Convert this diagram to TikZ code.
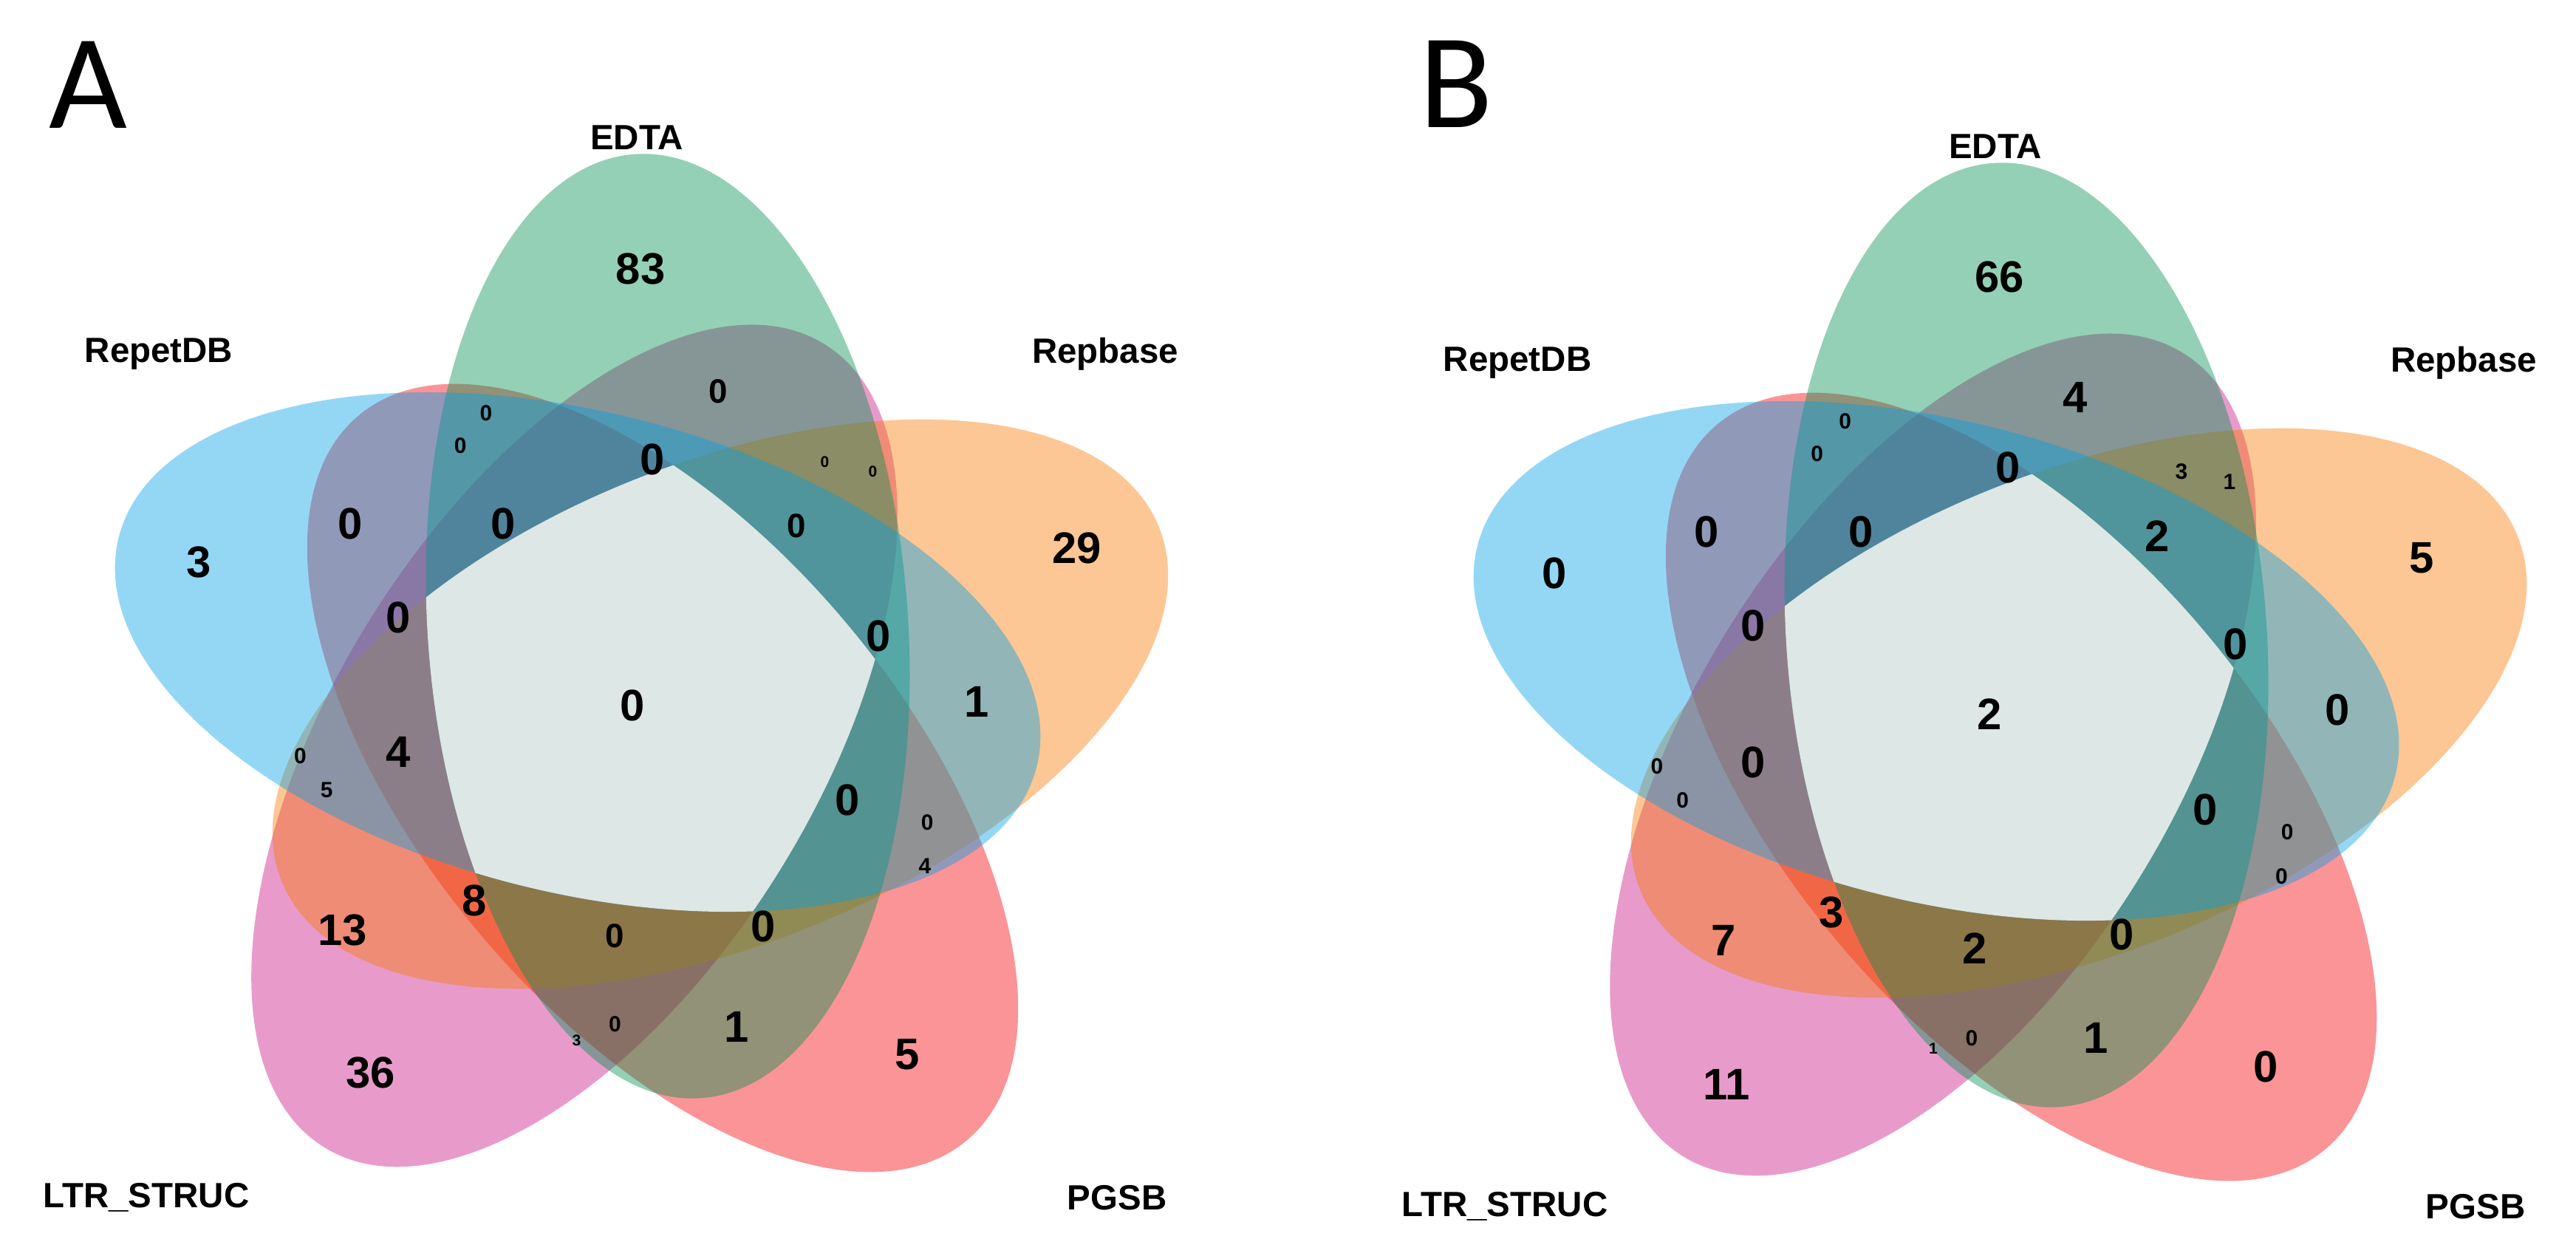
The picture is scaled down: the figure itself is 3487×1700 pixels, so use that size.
\documentclass[tikz,border=0pt]{standalone}
\usepackage{fontspec}
\setmainfont{Liberation Sans}
\newfontfamily\letterfont{Carlito}
\begin{document}
\begin{tikzpicture}[x=0.01cm,y=0.01cm,
  set/.style={fill opacity=0.42},
  big/.style={font=\fontsize{17}{17}\selectfont\bfseries},
  med/.style={font=\fontsize{13}{13}\selectfont\bfseries},
  sm/.style={font=\fontsize{8.5}{8.5}\selectfont\bfseries},
  tn/.style={font=\fontsize{6}{6}\selectfont\bfseries},
  lab/.style={font=\fontsize{13.5}{13.5}\selectfont\bfseries},
  panel/.style={font=\fontsize{52}{52}\selectfont\letterfont}]
\definecolor{cB}{RGB}{0,160,231}
\definecolor{cG}{RGB}{0,143,79}
\definecolor{cO}{RGB}{248,121,0}
\definecolor{cR}{RGB}{245,0,7}
\definecolor{cP}{RGB}{200,17,129}
\definecolor{cC}{RGB}{220,231,230}
\useasboundingbox (0,0) rectangle (3487,1700);
\tikzset{
  eB/.style={rotate around={166:(782,817.5)}},
  eG/.style={rotate around={94:(904,852.5)}},
  eO/.style={rotate around={22:(975,747)}},
  eR/.style={rotate around={-50:(897,647)}},
  eP/.style={rotate around={58:(777.5,690.6)}},
  ell/.style={x radius=6.4cm,y radius=3.25cm}}
\newcommand\vennsets{%
  \fill[set,cP,eP] (777.5,690.6) ellipse [ell];
  \fill[set,cR,eR] (897,647) ellipse [ell];
  \fill[set,cO,eO] (975,747) ellipse [ell];
  \fill[set,cG,eG] (904,852.5) ellipse [ell];
  \fill[set,cB,eB] (782,817.5) ellipse [ell];
  \begin{scope}
  \clip[eP] (777.5,690.6) ellipse [ell];
  \clip[eR] (897,647) ellipse [ell];
  \clip[eO] (975,747) ellipse [ell];
  \clip[eG] (904,852.5) ellipse [ell];
  \clip[eB] (782,817.5) ellipse [ell];
  \fill[cC] (0,0) rectangle (1700,1700);
  \end{scope}
}
% Panel A
\vennsets
\node[panel] (LA) at (119,1585) {A};
\node[lab] (eA) at (862,1514) {EDTA};
\node[lab] (rA) at (215,1221) {RepetDB};
\node[lab] (bA) at (1496,1221) {Repbase};
\node[lab] (lA) at (198,79) {LTR\_STRUC};
\node[lab] (pA) at (1512,79) {PGSB};
\begin{scope}[x=0.01084cm,y=-0.01084cm,yshift=17cm]
\node[big] (a1) at (800,337) {83};
\node[med] (a2) at (897,490) {0};
\node[sm] (a3) at (607,517) {0};
\node[sm] (a4) at (575,557) {0};
\node[big] (a5) at (815,575) {0};
\node[tn] (a6) at (1030,578) {0};
\node[tn] (a7) at (1090,590) {0};
\node[big] (a8) at (437,655) {0};
\node[big] (a9) at (628,655) {0};
\node[med] (a10) at (995,658) {0};
\node[big] (a11) at (1345,685) {29};
\node[big] (a12) at (248,703) {3};
\node[big] (a13) at (497,772) {0};
\node[big] (a14) at (1097,795) {0};
\node[big] (a15) at (790,882) {0};
\node[big] (a16) at (1220,877) {1};
\node[sm] (a17) at (375,945) {0};
\node[big] (a18) at (497,940) {4};
\node[sm] (a19) at (408,987) {5};
\node[big] (a20) at (1058,1000) {0};
\node[sm] (a21) at (1158,1028) {0};
\node[sm] (a22) at (1155,1082) {4};
\node[big] (a23) at (592,1125) {8};
\node[big] (a24) at (428,1162) {13};
\node[med] (a25) at (768,1170) {0};
\node[big] (a26) at (953,1158) {0};
\node[big] (a27) at (920,1283) {1};
\node[sm] (a28) at (768,1280) {0};
\node[tn] (a29) at (720,1300) {3};
\node[big] (a30) at (463,1340) {36};
\node[big] (a31) at (1133,1318) {5};
\end{scope}
% Panel B
\begin{scope}[xshift=18.38cm,yshift=-0.12cm]
\vennsets
\node[lab] (eB) at (862,1514) {EDTA};
\node[lab] (rB) at (215,1221) {RepetDB};
\node[lab] (bB) at (1496,1221) {Repbase};
\node[lab] (lB) at (198,79) {LTR\_STRUC};
\node[lab] (pB) at (1512,79) {PGSB};
\end{scope}
\node[panel] (LB) at (1971,1586) {B};
\begin{scope}[x=0.01084cm,y=-0.01084cm,yshift=17cm,xshift=17cm]
\node[big] (b1) at (928,347) {66};
\node[big] (b2) at (1022,497) {4};
\node[sm] (b3) at (735,527) {0};
\node[sm] (b4) at (700,568) {0};
\node[big] (b5) at (938,585) {0};
\node[sm] (b6) at (1155,590) {3};
\node[sm] (b7) at (1215,603) {1};
\node[big] (b8) at (562,665) {0};
\node[big] (b9) at (755,665) {0};
\node[big] (b10) at (1125,670) {2};
\node[big] (b11) at (1455,698) {5};
\node[big] (b12) at (372,717) {0};
\node[big] (b13) at (620,782) {0};
\node[big] (b14) at (1222,805) {0};
\node[big] (b15) at (915,893) {2};
\node[big] (b16) at (1350,887) {0};
\node[sm] (b17) at (500,958) {0};
\node[big] (b18) at (620,953) {0};
\node[sm] (b19) at (532,1000) {0};
\node[big] (b20) at (1185,1012) {0};
\node[sm] (b21) at (1287,1040) {0};
\node[sm] (b22) at (1280,1095) {0};
\node[big] (b23) at (718,1140) {3};
\node[big] (b24) at (583,1175) {7};
\node[big] (b25) at (897,1185) {2};
\node[big] (b26) at (1080,1168) {0};
\node[big] (b27) at (1048,1297) {1};
\node[sm] (b28) at (893,1297) {0};
\node[tn] (b29) at (845,1310) {1};
\node[big] (b30) at (587,1355) {11};
\node[big] (b31) at (1260,1333) {0};
\end{scope}
\end{tikzpicture}
\end{document}
